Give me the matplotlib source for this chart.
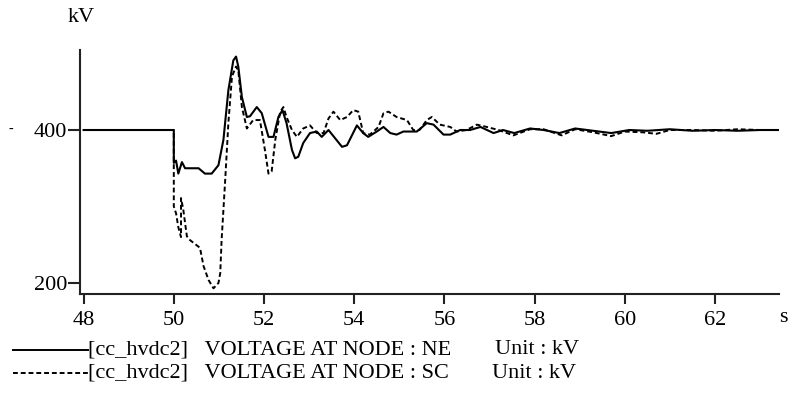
import matplotlib
matplotlib.use('Agg')
import matplotlib.pyplot as plt
from matplotlib.lines import Line2D

# time (s) and voltage (kV), node NE
t_ne = [48.0, 50.0, 50.0, 50.05, 50.1, 50.18, 50.25, 50.55, 50.69, 50.84, 50.99,
        51.1, 51.21, 51.32, 51.38, 51.43, 51.51, 51.62, 51.69, 51.84, 51.95,
        52.1, 52.21, 52.32, 52.41, 52.5, 52.62, 52.69, 52.76, 52.87, 53.02,
        53.17, 53.28, 53.43, 53.58, 53.73, 53.84, 53.95, 54.06, 54.2, 54.31,
        54.5, 54.65, 54.8, 54.94, 55.09, 55.39, 55.61, 55.76, 55.98, 56.13,
        56.35, 56.57, 56.8, 57.09, 57.3, 57.55, 57.9, 58.2, 58.55, 58.9,
        59.3, 59.7, 60.1, 60.5, 61.0, 61.5, 62.0, 62.5, 63.0, 63.4]
v_ne = [400, 400, 357, 360, 343, 358, 350, 350, 343, 343, 354,
        387, 452, 491, 496, 483, 443, 417, 418, 430, 422,
        391, 391, 417, 426, 409, 374, 363, 365, 383, 396,
        398, 391, 400, 389, 378, 380, 393, 406, 396, 391,
        398, 404, 396, 394, 398, 398, 409, 407, 394, 394,
        400, 400, 404, 396, 400, 396, 402, 400, 396, 402,
        399, 396, 400, 399, 401, 399, 400, 399, 400, 400]

# node SC
t_sc = [48.0, 50.0, 50.0, 50.05, 50.1, 50.16, 50.16, 50.21, 50.29, 50.36, 50.58,
        50.66, 50.77, 50.88, 50.99, 51.03, 51.06, 51.14, 51.21, 51.29, 51.38,
        51.43, 51.51, 51.62, 51.76, 51.91, 52.02, 52.1, 52.17, 52.25, 52.36,
        52.43, 52.5, 52.62, 52.73, 52.87, 53.02, 53.17, 53.32, 53.43, 53.54,
        53.69, 53.84, 53.98, 54.09, 54.2, 54.35, 54.54, 54.65, 54.76, 54.94,
        55.17, 55.31, 55.45, 55.61, 55.72, 55.9, 56.13, 56.27, 56.49, 56.72,
        56.94, 57.2, 57.53, 57.9, 58.2, 58.6, 58.9, 59.3, 59.7, 60.0,
        60.4, 60.7, 61.0, 61.5, 62.0, 62.5, 63.0, 63.4]
v_sc = [400, 400, 300, 291, 273, 260, 311, 296, 261, 256, 246,
        222, 204, 193, 200, 213, 256, 335, 409, 470, 483,
        478, 430, 402, 413, 413, 374, 343, 346, 387, 424,
        430, 417, 400, 391, 402, 406, 396, 396, 415, 424,
        413, 417, 426, 424, 396, 394, 404, 422, 424, 417,
        413, 400, 400, 413, 417, 407, 404, 398, 400, 407,
        404, 400, 393, 401, 401, 393, 401, 397, 392, 398,
        397, 395, 400, 400, 399, 401, 400, 400]

x_ticks = [48, 50, 52, 54, 56, 58, 60, 62]
y_ticks = [200, 400]
labels = ['[cc_hvdc2]   VOLTAGE AT NODE : NE', '[cc_hvdc2]   VOLTAGE AT NODE : SC']
unit = 'Unit : kV'

plt.rcParams['font.family'] = ['Liberation Serif', 'DejaVu Serif']
fs = 16

fig = plt.figure(figsize=(7.9, 3.94), dpi=100)
ax = fig.add_axes([80 / 790, 1 - 294 / 394, 699 / 790, 244 / 394])

ax.plot(t_ne, v_ne, color='black', lw=1.5)
ax.plot(t_sc, v_sc, color='black', lw=1.4, dashes=(2.5, 1.5))

ax.set_xlim(47.92, 63.42)
ax.set_ylim(185.6, 504.6)
ax.set_xticks(x_ticks)
ax.set_yticks(y_ticks)
for side in ['top', 'right']:
    ax.spines[side].set_visible(False)
for side in ['left', 'bottom']:
    ax.spines[side].set_linewidth(1.5)
    ax.spines[side].set_color('#222222')
ax.tick_params(axis='x', length=7, width=1.5, pad=5, labelsize=fs, color='#222222')
ax.tick_params(axis='y', length=9, width=1.5, pad=0, labelsize=fs, color='#222222')

fig.text(81 / 790, 1 - 18 / 394, 'kV', fontsize=fs, ha='center', va='center')
fig.text(783 / 790, 1 - 318 / 394, 's', fontsize=fs, ha='center', va='center')
fig.text(11 / 790, 1 - 129 / 394, '-', fontsize=10, ha='center', va='center')

# legend block under the axes
rows = [(350, None, 495), (373, (2.5, 1.5), 492)]
for (y, dash, ux), lab in zip(rows, labels):
    yf = 1 - y / 394
    ln = Line2D([13 / 790, 88 / 790], [yf, yf], color='black', lw=1.4,
                transform=fig.transFigure)
    if dash:
        ln.set_dashes(dash)
    fig.add_artist(ln)
    fig.text(88 / 790, yf, lab, fontsize=fs, ha='left', va='center')
    fig.text(ux / 790, yf, unit, fontsize=fs, ha='left', va='center')

fig.savefig('out.png', dpi=100)
